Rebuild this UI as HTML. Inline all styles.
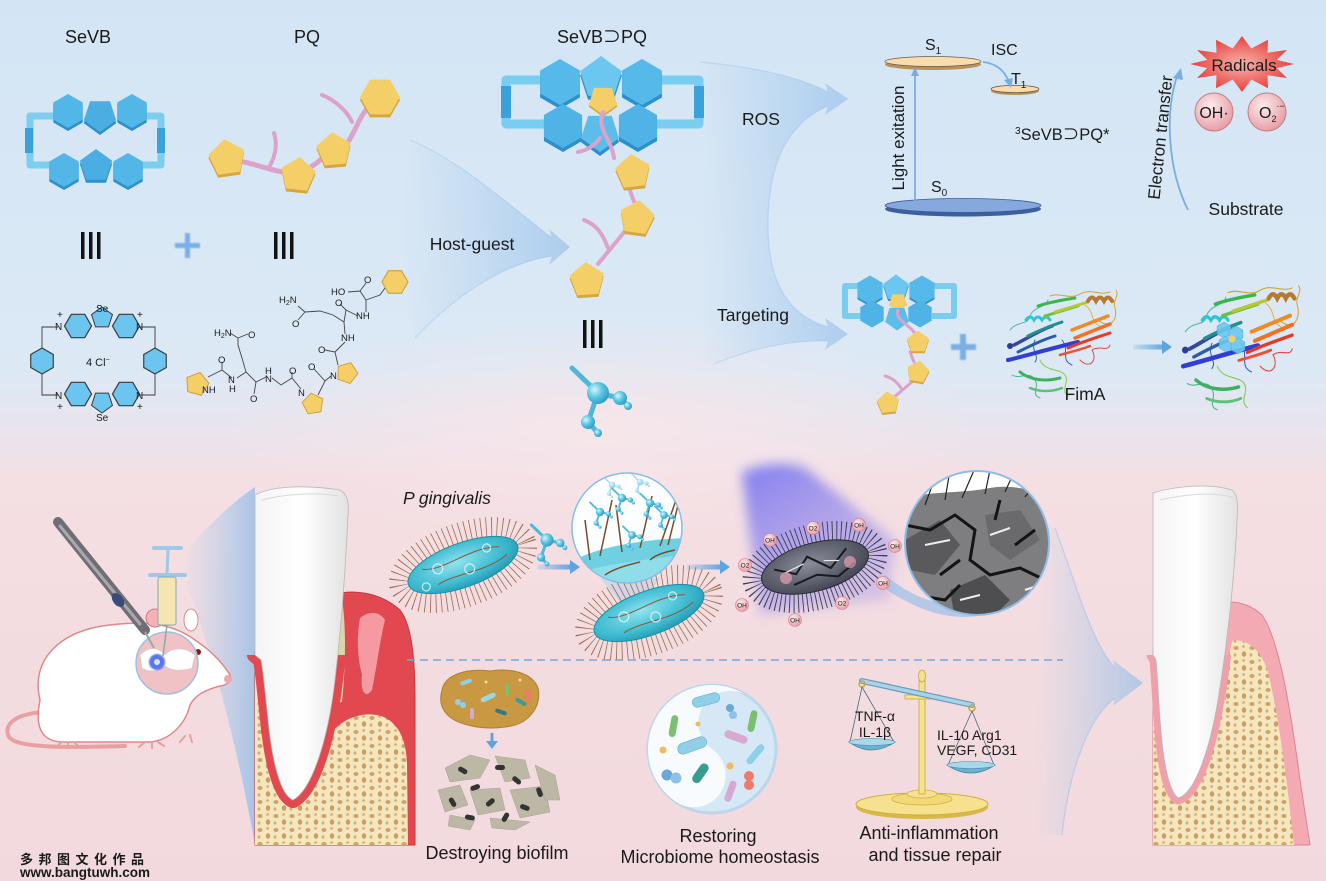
<!DOCTYPE html>
<html><head><meta charset="utf-8">
<style>
html,body{margin:0;padding:0;width:1326px;height:881px;overflow:hidden;background:#e4e4ec}
svg{display:block}
text{font-family:"Liberation Sans","Noto Sans CJK SC",sans-serif;fill:#1a1a1a}
</style></head><body>
<svg width="1326" height="881" viewBox="0 0 1326 881" xmlns="http://www.w3.org/2000/svg">
<defs>
 <linearGradient id="bg" x1="0" y1="0" x2="0" y2="1">
  <stop offset="0" stop-color="#d3e5f5"/>
  <stop offset="0.42" stop-color="#dce9f5"/>
  <stop offset="0.5" stop-color="#ebe3ec"/>
  <stop offset="0.54" stop-color="#f4dfe3"/>
  <stop offset="1" stop-color="#f2d9dd"/>
 </linearGradient>
 <radialGradient id="glow" cx="0.5" cy="0.5" r="0.5">
  <stop offset="0" stop-color="#f7e6ea" stop-opacity="0.95"/>
  <stop offset="1" stop-color="#f7e6ea" stop-opacity="0"/>
 </radialGradient>
 <linearGradient id="wHG" gradientUnits="userSpaceOnUse" x1="400" y1="0" x2="570" y2="0">
  <stop offset="0" stop-color="#9cc4ea" stop-opacity="0"/>
  <stop offset="1" stop-color="#8dbbe8" stop-opacity="0.6"/>
 </linearGradient>
 <linearGradient id="wRT" gradientUnits="userSpaceOnUse" x1="700" y1="0" x2="848" y2="0">
  <stop offset="0" stop-color="#9cc4ea" stop-opacity="0"/>
  <stop offset="1" stop-color="#8dbbe8" stop-opacity="0.6"/>
 </linearGradient>
 <linearGradient id="wRat" gradientUnits="userSpaceOnUse" x1="190" y1="0" x2="256" y2="0">
  <stop offset="0" stop-color="#a6cbec" stop-opacity="0.1"/>
  <stop offset="1" stop-color="#8dbbe8" stop-opacity="0.75"/>
 </linearGradient>
 <linearGradient id="wBR" gradientUnits="userSpaceOnUse" x1="1035" y1="0" x2="1143" y2="0">
  <stop offset="0" stop-color="#a6cbec" stop-opacity="0"/>
  <stop offset="1" stop-color="#8dbbe8" stop-opacity="0.65"/>
 </linearGradient>
 <linearGradient id="arrG" x1="0" y1="0" x2="1" y2="0">
  <stop offset="0" stop-color="#5fa4e0" stop-opacity="0.15"/>
  <stop offset="1" stop-color="#5fa4e0"/>
 </linearGradient>
 <radialGradient id="ballG" cx="0.35" cy="0.35" r="0.7">
  <stop offset="0" stop-color="#d6f6fd"/>
  <stop offset="0.5" stop-color="#5cc6e4"/>
  <stop offset="1" stop-color="#2b9cc4"/>
 </radialGradient>
 <radialGradient id="cyanG" cx="0.45" cy="0.4" r="0.7">
  <stop offset="0" stop-color="#8fe3ee"/>
  <stop offset="0.6" stop-color="#3dbbd0"/>
  <stop offset="1" stop-color="#1d8ea8"/>
 </radialGradient>
 <radialGradient id="darkG" cx="0.45" cy="0.4" r="0.7">
  <stop offset="0" stop-color="#8a8d9a"/>
  <stop offset="1" stop-color="#3a3c4a"/>
 </radialGradient>
 <radialGradient id="rosG" cx="0.4" cy="0.35" r="0.7">
  <stop offset="0" stop-color="#fdeced"/>
  <stop offset="1" stop-color="#e59aa2"/>
 </radialGradient>
 <radialGradient id="starG" cx="0.5" cy="0.5" r="0.5">
  <stop offset="0" stop-color="#f6b4aa"/>
  <stop offset="1" stop-color="#e8403e"/>
 </radialGradient>
 <linearGradient id="beamG" x1="0" y1="0" x2="0.6" y2="1">
  <stop offset="0" stop-color="#5b5ef2" stop-opacity="0.75"/>
  <stop offset="1" stop-color="#7a6cf0" stop-opacity="0.25"/>
 </linearGradient>
 <linearGradient id="toothG" x1="0" y1="0" x2="1" y2="0">
  <stop offset="0" stop-color="#f4f4f4"/>
  <stop offset="0.5" stop-color="#ffffff"/>
  <stop offset="1" stop-color="#e2e2e2"/>
 </linearGradient>
 <filter id="blur6" x="-30%" y="-30%" width="160%" height="160%"><feGaussianBlur stdDeviation="6"/></filter>
 <filter id="blur1"><feGaussianBlur stdDeviation="0.8"/></filter>
 <pattern id="bone" width="16" height="14" patternUnits="userSpaceOnUse">
  <rect width="16" height="14" fill="#f4e6bf"/>
  <ellipse cx="4" cy="4" rx="2.6" ry="2" fill="#d3a266"/>
  <ellipse cx="12" cy="10" rx="2.2" ry="2.8" fill="#cf9c60"/>
  <ellipse cx="11.5" cy="2.5" rx="1.5" ry="1.2" fill="#d8ae78"/>
  <ellipse cx="3" cy="11" rx="1.4" ry="1.8" fill="#d8ae78"/>
 </pattern>
 <clipPath id="lowClip"><rect x="0" y="655" width="1326" height="226"/></clipPath>
 <polygon id="pg" points="0,-10 9.51,-3.09 5.88,8.09 -5.88,8.09 -9.51,-3.09"/>
 <polygon id="hx" points="0,-10 8.66,-5 8.66,5 0,10 -8.66,5 -8.66,-5"/>
 <g id="mol">
  <path d="M0,0 L-26,-25 M0,0 L22,5 L30,13 M0,0 L-10,29 L0,40" stroke="#4fb8d8" stroke-width="5" stroke-linecap="round" fill="none"/>
  <circle r="11" fill="url(#ballG)"/>
  <circle cx="22" cy="5" r="7" fill="url(#ballG)"/>
  <circle cx="-10" cy="29" r="7" fill="url(#ballG)"/>
  <circle cx="30" cy="13" r="4" fill="url(#ballG)"/>
  <circle cx="0" cy="40" r="4" fill="url(#ballG)"/>
 </g>
 <g id="prot" fill="none" stroke-linecap="round">
  <path d="M1010,330 C1018,320 1028,326 1030,316 C1034,306 1046,308 1048,300" stroke="#56b8a0" stroke-width="1"/>
  <path d="M1050,296 C1060,292 1070,300 1080,294 C1090,288 1100,296 1110,292" stroke="#c8a838" stroke-width="1"/>
  <path d="M1098,320 C1110,330 1118,320 1115,308 C1112,300 1120,296 1116,290" stroke="#e0a030" stroke-width="1"/>
  <path d="M1080,360 C1090,370 1098,360 1092,350 C1100,345 1108,352 1110,345" stroke="#e04a4a" stroke-width="1"/>
  <path d="M1040,360 C1045,372 1060,368 1065,375 C1070,382 1060,390 1068,396" stroke="#8ac850" stroke-width="1"/>
  <path d="M1012,375 C1020,380 1030,370 1035,380 C1040,388 1030,394 1040,398" stroke="#4ab890" stroke-width="1"/>
  <path d="M1062,340 C1070,350 1060,360 1072,365" stroke="#4060c0" stroke-width="1"/>
  <path d="M1035,340 C1030,350 1040,356 1035,362" stroke="#3a6ab0" stroke-width="1"/>
  <path d="M1085,305 C1095,312 1090,322 1100,326" stroke="#e8b040" stroke-width="1"/>
  <path d="M1008,360 C1025,356 1045,350 1078,342" stroke="#2f3fd6" stroke-width="4"/>
  <path d="M1014,345 C1028,338 1040,330 1052,326" stroke="#35489a" stroke-width="3.5"/>
  <path d="M1018,352 C1030,346 1042,340 1055,336" stroke="#2a5ca8" stroke-width="3"/>
  <path d="M1028,336 C1040,330 1050,326 1062,322" stroke="#1f8f8f" stroke-width="3"/>
  <path d="M1026,320 q4,-6 8,0 q4,-6 8,0 q4,-6 8,0" stroke="#2cc6d6" stroke-width="3"/>
  <path d="M1038,306 C1050,302 1062,300 1075,298" stroke="#3db54a" stroke-width="3"/>
  <path d="M1045,316 L1078,306" stroke="#70c040" stroke-width="3"/>
  <path d="M1020,372 C1030,380 1045,382 1060,378" stroke="#40b060" stroke-width="3"/>
  <path d="M1030,388 C1040,392 1052,392 1062,388" stroke="#5cc27a" stroke-width="2.5"/>
  <path d="M1055,312 L1088,302" stroke="#b8c832" stroke-width="3"/>
  <path d="M1072,330 L1108,316" stroke="#f08a24" stroke-width="3.5"/>
  <path d="M1075,338 L1110,324" stroke="#f36f21" stroke-width="3.5"/>
  <path d="M1068,348 C1082,342 1095,338 1110,333" stroke="#e23b2b" stroke-width="3"/>
  <path d="M1060,355 C1070,352 1080,350 1090,346" stroke="#ee5030" stroke-width="2.5"/>
  <path d="M1088,301 q4,-7 8,0 q4,-7 8,0 q4,-7 8,0" stroke="#b8782e" stroke-width="4"/>
  <circle cx="1010" cy="346" r="3" fill="#2a3f8f" stroke="none"/>
 </g>
</defs>

<!-- background -->
<rect width="1326" height="881" fill="url(#bg)"/>
<ellipse cx="600" cy="430" rx="380" ry="110" fill="url(#glow)"/>

<!-- big wedges top -->
<path d="M410,140 C460,160 515,210 552,238 L549,229 L570,247 L549,265 L552,256 C510,262 460,290 415,338 C400,280 400,200 410,140 Z" fill="url(#wHG)"/>
<path d="M410,140 C460,160 515,210 552,238 M552,256 C510,262 460,290 415,338" fill="none" stroke="#8dbbe8" stroke-opacity="0.35" stroke-width="1.2"/>
<path d="M700,62 C765,68 805,80 828,92 L825,83 L848,99 L825,115 L828,106 C786,124 768,165 768,225 C768,285 790,316 828,327 L825,318 L848,334 L825,350 L828,341 C790,340 752,348 714,364 L700,364 Z" fill="url(#wRT)"/>
<path d="M700,62 C765,68 805,80 828,92 M828,106 C786,124 768,165 768,225 C768,285 790,316 828,327 M828,341 C790,340 752,348 714,364" fill="none" stroke="#8dbbe8" stroke-opacity="0.35" stroke-width="1.2"/>

<!-- labels top -->
<text x="88" y="43" font-size="18" text-anchor="middle">SeVB</text>
<text x="307" y="43" font-size="18" text-anchor="middle">PQ</text>
<text x="602" y="43" font-size="18" text-anchor="middle">SeVB⊃PQ</text>
<text x="472" y="250" font-size="17.5" text-anchor="middle">Host-guest</text>
<text x="761" y="125" font-size="17.5" text-anchor="middle">ROS</text>
<text x="753" y="321" font-size="17.5" text-anchor="middle">Targeting</text>

<!-- SeVB macrocycle -->
<path d="M56,116 H30 V165 H52 M144,116 H161 V165 H140" fill="none" stroke="#7ccdf0" stroke-width="7" stroke-linejoin="round"/>
<rect x="25" y="128" width="8" height="25" fill="#3aa2d8"/>
<rect x="157" y="128" width="8" height="25" fill="#3aa2d8"/>
<use href="#hx" transform="translate(68,114) scale(1.7)" fill="#2d8fcb"/>
<use href="#hx" transform="translate(132,114) scale(1.7)" fill="#2d8fcb"/>
<use href="#pg" transform="translate(100,118) rotate(180) scale(1.7)" fill="#2d8fcb"/>
<use href="#hx" transform="translate(68,111) scale(1.7)" fill="#52b6e7"/>
<use href="#hx" transform="translate(132,111) scale(1.7)" fill="#52b6e7"/>
<use href="#pg" transform="translate(100,115) rotate(180) scale(1.7)" fill="#4aaee2"/>
<use href="#hx" transform="translate(64,173) scale(1.7)" fill="#2d8fcb"/>
<use href="#hx" transform="translate(128,173) scale(1.7)" fill="#2d8fcb"/>
<use href="#pg" transform="translate(96,169) scale(1.7)" fill="#2d8fcb"/>
<use href="#hx" transform="translate(64,170) scale(1.7)" fill="#52b6e7"/>
<use href="#hx" transform="translate(128,170) scale(1.7)" fill="#52b6e7"/>
<use href="#pg" transform="translate(96,166) scale(1.7)" fill="#4aaee2"/>

<!-- PQ chain -->
<path d="M244,162 C258,165 270,170 283,172 M312,166 C318,163 320,160 322,158 M348,142 C356,130 358,120 366,110" stroke="#dca3c9" stroke-width="5" fill="none" stroke-linecap="round"/>
<path d="M268,169 C275,158 278,145 274,133 M352,122 C348,112 335,100 322,95" stroke="#dca3c9" stroke-width="4" fill="none" stroke-linecap="round"/>
<use href="#pg" transform="translate(227,161) rotate(-8) scale(1.9)" fill="#d6a740"/>
<use href="#pg" transform="translate(227,158) rotate(-8) scale(1.9)" fill="#f4cf68"/>
<use href="#pg" transform="translate(298,178) rotate(6) scale(1.8)" fill="#d6a740"/>
<use href="#pg" transform="translate(298,175) rotate(6) scale(1.8)" fill="#f4cf68"/>
<use href="#pg" transform="translate(334,153) rotate(-5) scale(1.8)" fill="#d6a740"/>
<use href="#pg" transform="translate(334,150) rotate(-5) scale(1.8)" fill="#f4cf68"/>
<use href="#hx" transform="translate(380,100) rotate(30) scale(2)" fill="#d6a740"/>
<use href="#hx" transform="translate(380,97) rotate(30) scale(2)" fill="#f4cf68"/>

<!-- ||| and + -->
<g fill="#111">
 <rect x="81" y="232" width="3.5" height="27"/><rect x="89" y="232" width="3.5" height="27"/><rect x="97" y="232" width="3.5" height="27"/>
 <rect x="274" y="232" width="3.5" height="27"/><rect x="282" y="232" width="3.5" height="27"/><rect x="290" y="232" width="3.5" height="27"/>
 <rect x="583" y="320" width="3.5" height="28"/><rect x="591" y="320" width="3.5" height="28"/><rect x="599" y="320" width="3.5" height="28"/>
</g>
<g fill="#7ab0e6" filter="url(#blur1)">
 <rect x="175" y="243" width="25" height="5"/><rect x="185" y="233" width="5" height="25"/>
 <rect x="951" y="344" width="25" height="6"/><rect x="960" y="334" width="6" height="26"/>
</g>

<!-- SeVB chemical structure -->
<g stroke="#3a3a3a" stroke-width="0.9" fill="#6cc5ef">
 <use href="#hx" transform="translate(78,326) rotate(30) scale(1.35)"/>
 <use href="#hx" transform="translate(126,326) rotate(30) scale(1.35)"/>
 <use href="#pg" transform="translate(102,318) scale(1.1)"/>
 <use href="#hx" transform="translate(78,394) rotate(30) scale(1.35)"/>
 <use href="#hx" transform="translate(126,394) rotate(30) scale(1.35)"/>
 <use href="#pg" transform="translate(102,402) rotate(180) scale(1.1)"/>
 <use href="#hx" transform="translate(42,361) scale(1.3)"/>
 <use href="#hx" transform="translate(155,361) scale(1.3)"/>
 <path d="M58,327 H42 V348 M42,374 V395 H58 M139,327 H155 V348 M155,374 V395 H139" fill="none"/>
</g>
<g font-size="10" fill="#333">
 <text x="96" y="312">Se</text><text x="96" y="421">Se</text>
 <text x="55" y="330">N</text><text x="136" y="330">N</text>
 <text x="55" y="399">N</text><text x="136" y="399">N</text>
 <text x="57" y="318">+</text><text x="137" y="318">+</text>
 <text x="57" y="410">+</text><text x="137" y="410">+</text>
 <text x="86" y="366" font-size="11">4 Cl<tspan dy="-4" font-size="7">−</tspan></text>
</g>

<!-- PQ chemical structure -->
<g stroke="#d2a23e" stroke-width="0.9" fill="#f4cf68">
 <use href="#pg" transform="translate(197,384) rotate(15) scale(1.2)"/>
 <use href="#pg" transform="translate(313,404) rotate(-10) scale(1.1)"/>
 <use href="#pg" transform="translate(347,373) rotate(20) scale(1.1)"/>
 <use href="#hx" transform="translate(395,282) rotate(30) scale(1.3)"/>
</g>
<path fill="none" stroke="#444" stroke-width="0.9" d="M208,377 L222,370 L222,362 M222,370 L232,378 M237,378 L246,372 L242,358 L238,345 L238,338 L230,333 M238,338 L248,334 M246,372 L256,382 L254,394 M256,382 L266,377 M272,378 L281,385 L292,378 L292,372 M292,378 L301,389 M318,395 L325,381 L314,369 M325,381 L331,376 M338,365 L335,352 L325,350 M335,352 L345,342 M345,334 L344,322 L333,315 L320,311 L305,312 L298,306 M305,312 L298,320 M344,322 L346,310 L340,304 M346,310 L358,316 M366,312 L366,300 L360,291 L348,292 M360,291 L366,283 M366,300 L380,295 L385,288"/>
<g font-size="9.5" fill="#333">
 <text x="279" y="303">H<tspan font-size="7" dy="2">2</tspan><tspan dy="-2">N</tspan></text>
 <text x="292" y="327">O</text><text x="331" y="295">HO</text><text x="364" y="283">O</text>
 <text x="335" y="306">O</text><text x="356" y="319">NH</text><text x="341" y="341">NH</text>
 <text x="318" y="353">O</text><text x="308" y="370">O</text><text x="330" y="379">N</text>
 <text x="214" y="336">H<tspan font-size="7" dy="2">2</tspan><tspan dy="-2">N</tspan></text>
 <text x="248" y="338">O</text><text x="218" y="363">O</text>
 <text x="228" y="383">N</text><text x="229" y="392">H</text>
 <text x="265" y="374">H</text><text x="265" y="382">N</text>
 <text x="250" y="402">O</text><text x="289" y="374">O</text><text x="298" y="396">N</text>
 <text x="202" y="393">NH</text>
</g>

<!-- SeVB⊃PQ complex -->
<path d="M545,80 H506 V124 H548 M655,80 H699 V124 H655" fill="none" stroke="#78cdf0" stroke-width="9" stroke-linejoin="round"/>
<rect x="501" y="86" width="10" height="32" fill="#3aa2d8"/>
<rect x="694" y="86" width="10" height="32" fill="#3aa2d8"/>
<use href="#hx" transform="translate(560,86) scale(2.3)" fill="#2d8fcb"/>
<use href="#pg" transform="translate(601,82) scale(2.2)" fill="#2d8fcb"/>
<use href="#hx" transform="translate(642,86) scale(2.3)" fill="#2d8fcb"/>
<use href="#hx" transform="translate(560,82) scale(2.3)" fill="#55b9e9"/>
<use href="#pg" transform="translate(601,78) scale(2.2)" fill="#6cc7f0"/>
<use href="#hx" transform="translate(642,82) scale(2.3)" fill="#55b9e9"/>
<use href="#pg" transform="translate(603,102) rotate(180) scale(1.5)" fill="#d6a740"/>
<use href="#pg" transform="translate(603,100) rotate(180) scale(1.5)" fill="#f4cf68"/>
<use href="#hx" transform="translate(563,130) scale(2.2)" fill="#2d8fcb"/>
<use href="#pg" transform="translate(600,136) rotate(180) scale(2)" fill="#2d8fcb"/>
<use href="#hx" transform="translate(638,130) scale(2.2)" fill="#2d8fcb"/>
<use href="#hx" transform="translate(563,126) scale(2.2)" fill="#4fb3e6"/>
<use href="#pg" transform="translate(600,132) rotate(180) scale(2)" fill="#5dbdea"/>
<use href="#hx" transform="translate(638,126) scale(2.2)" fill="#4fb3e6"/>
<path d="M603,112 C596,128 612,140 614,158 M578,152 C588,150 595,145 600,138 M630,190 C632,197 634,202 636,205 M626,230 L598,264 M608,248 C602,232 596,225 584,220" stroke="#dca3c9" stroke-width="4" fill="none" stroke-linecap="round"/>
<use href="#pg" transform="translate(633,175) rotate(-6) scale(1.8)" fill="#d6a740"/>
<use href="#pg" transform="translate(633,172) rotate(-6) scale(1.8)" fill="#f4cf68"/>
<use href="#pg" transform="translate(637,221) rotate(8) scale(1.8)" fill="#d6a740"/>
<use href="#pg" transform="translate(637,218) rotate(8) scale(1.8)" fill="#f4cf68"/>
<use href="#pg" transform="translate(587,283) rotate(-4) scale(1.8)" fill="#d6a740"/>
<use href="#pg" transform="translate(587,280) rotate(-4) scale(1.8)" fill="#f4cf68"/>
<use href="#mol" transform="translate(598,393)"/>

<!-- Energy diagram -->
<ellipse cx="933" cy="64.5" rx="48" ry="5.5" fill="#b8925a"/>
<ellipse cx="933" cy="61.5" rx="48" ry="5" fill="#f8dcae" stroke="#6b5a40" stroke-width="0.8"/>
<ellipse cx="1015" cy="91" rx="24" ry="4" fill="#b8925a"/>
<ellipse cx="1015" cy="89" rx="24" ry="3.6" fill="#f8dcae" stroke="#6b5a40" stroke-width="0.8"/>
<ellipse cx="963" cy="209" rx="78" ry="7.5" fill="#3d5f9e"/>
<ellipse cx="963" cy="205.5" rx="78" ry="7" fill="#86a8dc" stroke="#3b5b97" stroke-width="0.8"/>
<line x1="915" y1="204" x2="915" y2="74" stroke="#7aaee0" stroke-width="1.8"/>
<polygon points="911,76 915,67 919,76" fill="#7aaee0"/>
<path d="M983,62 Q1002,64 1009,82" fill="none" stroke="#7aaee0" stroke-width="1.8"/>
<polygon points="1004,80 1011,88 1013,78" fill="#7aaee0"/>
<text x="925" y="50" font-size="16">S<tspan font-size="10" dy="4">1</tspan></text>
<text x="991" y="55" font-size="16">ISC</text>
<text x="1011" y="84" font-size="16">T<tspan font-size="10" dy="4">1</tspan></text>
<text x="931" y="192" font-size="16">S<tspan font-size="10" dy="4">0</tspan></text>
<text transform="translate(904,138) rotate(-90)" font-size="17" text-anchor="middle">Light exitation</text>
<text x="1015" y="140" font-size="16.5"><tspan font-size="10" dy="-6">3</tspan><tspan dy="6">SeVB⊃PQ*</tspan></text>

<!-- Electron transfer -->
<path d="M1188,210 C1168,170 1164,110 1178,74" fill="none" stroke="#7aaee0" stroke-width="1.8"/>
<polygon points="1173,78 1181,68 1183,80" fill="#7aaee0"/>
<text transform="translate(1166,138) rotate(-84)" font-size="17" text-anchor="middle">Electron transfer</text>
<polygon fill="url(#starG)" points="1294,64 1276.8,68.1 1287,78 1267.5,75.3 1268,88.2 1251.3,79.5 1242,92 1232.7,79.5 1216,88.2 1216.5,75.3 1197,78 1207.2,68.1 1190,64 1207.2,59.9 1197,50 1216.5,52.7 1216,39.8 1232.7,48.5 1242,36 1251.3,48.5 1268,39.8 1267.5,52.7 1287,50 1276.8,59.9"/>
<text x="1244" y="71" font-size="17" text-anchor="middle">Radicals</text>
<circle cx="1214" cy="112" r="19" fill="url(#rosG)" stroke="#c77a80" stroke-width="1"/>
<circle cx="1267" cy="112" r="19" fill="url(#rosG)" stroke="#c77a80" stroke-width="1"/>
<text x="1214" y="118" font-size="16" text-anchor="middle">OH·</text>
<text x="1259" y="118" font-size="16">O<tspan font-size="9" dy="4">2</tspan><tspan font-size="9" dy="-13">·−</tspan></text>
<text x="1246" y="215" font-size="17.5" text-anchor="middle">Substrate</text>

<!-- Targeting complex small -->
<path d="M862,286 H845 V316 H864 M934,286 H954 V316 H932" fill="none" stroke="#78cdf0" stroke-width="6" stroke-linejoin="round"/>
<use href="#hx" transform="translate(870,292) scale(1.45)" fill="#2d8fcb"/>
<use href="#pg" transform="translate(896,290) scale(1.35)" fill="#2d8fcb"/>
<use href="#hx" transform="translate(922,292) scale(1.45)" fill="#2d8fcb"/>
<use href="#hx" transform="translate(870,290) scale(1.45)" fill="#55b9e9"/>
<use href="#pg" transform="translate(896,288) scale(1.35)" fill="#6cc7f0"/>
<use href="#hx" transform="translate(922,290) scale(1.45)" fill="#55b9e9"/>
<use href="#pg" transform="translate(898,302) rotate(180) scale(0.95)" fill="#f4cf68"/>
<use href="#hx" transform="translate(872,314) scale(1.35)" fill="#4fb3e6"/>
<use href="#pg" transform="translate(897,318) rotate(180) scale(1.25)" fill="#5dbdea"/>
<use href="#hx" transform="translate(920,314) scale(1.35)" fill="#4fb3e6"/>
<path d="M898,310 C894,320 912,326 915,334 M910,352 L914,362 M912,382 L893,398 M902,390 C898,382 892,378 885,376" stroke="#dca3c9" stroke-width="3" fill="none" stroke-linecap="round"/>
<use href="#pg" transform="translate(918,344) scale(1.15)" fill="#d6a740"/>
<use href="#pg" transform="translate(918,342) scale(1.15)" fill="#f4cf68"/>
<use href="#pg" transform="translate(918,374) rotate(10) scale(1.15)" fill="#d6a740"/>
<use href="#pg" transform="translate(918,372) rotate(10) scale(1.15)" fill="#f4cf68"/>
<use href="#pg" transform="translate(888,405) rotate(-6) scale(1.15)" fill="#d6a740"/>
<use href="#pg" transform="translate(888,403) rotate(-6) scale(1.15)" fill="#f4cf68"/>

<!-- FimA -->
<use href="#prot"/>
<text x="1085" y="400" font-size="17.5" text-anchor="middle">FimA</text>
<rect x="1133" y="344.5" width="32" height="5" fill="url(#arrG)"/>
<polygon points="1162,340 1172,347 1162,354" fill="#5fa4e0"/>
<use href="#prot" transform="translate(1182 288) scale(1.07 1.15) translate(-1007 -292)"/>
<g fill="#6cc7f0" stroke="#3a9fd6" stroke-width="0.6" opacity="0.9">
 <use href="#hx" transform="translate(1224,330) scale(0.8)"/>
 <use href="#hx" transform="translate(1236,334) scale(0.8)"/>
 <use href="#hx" transform="translate(1226,344) scale(0.8)"/>
 <use href="#hx" transform="translate(1238,346) scale(0.8)"/>
</g>
<circle cx="1232" cy="339" r="3.5" fill="#f4cf68"/>

<!-- ===== bottom ===== -->
<path d="M188,548 C212,522 235,500 255,487 L255,845 C240,760 215,660 188,588 Z" fill="url(#wRat)"/>
<path d="M1055,528 C1075,580 1090,640 1115,668 L1113,660 L1143,683 L1113,706 L1115,698 C1085,720 1068,780 1062,835 L1035,835 L1035,528 Z" fill="url(#wBR)"/>
<path d="M1055,528 C1075,580 1090,640 1115,668 M1115,698 C1085,720 1068,780 1062,835" fill="none" stroke="#8dbbe8" stroke-opacity="0.45" stroke-width="1.2"/>

<!-- Rat -->
<path d="M50,712 C20,712 4,722 8,735 C12,748 60,748 125,746" fill="none" stroke="#e8a0a0" stroke-width="4" stroke-linecap="round"/>
<path d="M40,700 C30,660 60,630 110,625 C150,620 175,625 195,640 C210,650 222,662 230,675 C232,680 228,685 220,686 C205,690 195,695 190,705 C185,725 170,740 150,742 L60,742 C40,740 35,725 40,700 Z" fill="#ffffff" stroke="#e08888" stroke-width="1.5"/>
<path d="M62,742 l-6,5 M68,742 l0,6 M74,742 l5,5 M145,742 l-6,5 M152,742 l0,6 M158,742 l6,4 M185,736 l-5,6 M190,735 l2,7" stroke="#e8a0a0" stroke-width="2" stroke-linecap="round"/>
<circle cx="155" cy="618" r="9" fill="#f2b2b6" stroke="#d07b80"/>
<ellipse cx="191" cy="620" rx="7" ry="11" fill="#fff" stroke="#e08888"/>
<circle cx="198" cy="652" r="3" fill="#8b1a1a"/>
<circle cx="228" cy="679" r="4" fill="#f2a6ac"/>
<circle cx="167" cy="663" r="31" fill="#f0c2c6" stroke="#9cc2e0" stroke-width="1.5"/>
<path d="M140,655 C150,645 160,648 165,655 C170,648 185,646 195,655 L192,668 C180,672 170,670 165,666 C158,672 148,672 142,668 Z" fill="#fff" stroke="#ccc" stroke-width="0.6"/>
<circle cx="157" cy="662" r="8" fill="#3c5ee8" opacity="0.85" filter="url(#blur1)"/>
<circle cx="157" cy="662" r="3" fill="#d8e6ff"/>
<line x1="58" y1="522" x2="145" y2="630" stroke="#6e6e74" stroke-width="10" stroke-linecap="round"/>
<line x1="60" y1="526" x2="140" y2="624" stroke="#a8a8ae" stroke-width="3" stroke-linecap="round"/>
<ellipse cx="118" cy="600" rx="5" ry="8" transform="rotate(-38 118 600)" fill="#3a4a7a"/>
<line x1="145" y1="632" x2="154" y2="648" stroke="#9aa" stroke-width="2"/>
<line x1="168" y1="549" x2="167" y2="575" stroke="#9ec9e8" stroke-width="3"/>
<line x1="154" y1="548" x2="181" y2="548" stroke="#9ec9e8" stroke-width="4" stroke-linecap="round"/>
<line x1="150" y1="575" x2="185" y2="575" stroke="#9ec9e8" stroke-width="4" stroke-linecap="round"/>
<rect x="158" y="577" width="18" height="48" rx="2" fill="#f5e5b0" stroke="#8aa6b8" stroke-width="1"/>
<line x1="167" y1="625" x2="163" y2="656" stroke="#8aa" stroke-width="1.5"/>

<!-- Diseased tooth panel -->
<path d="M332,596 C350,588 380,592 400,610 C412,625 415,660 415,700 L415,845 L255,845 L255,652 C262,650 268,652 270,660 Z" fill="#e2484f" stroke="#c9363e" stroke-width="1"/>
<path d="M255,845 L255,660 L266,660 L266,728 L336,728 C350,714 372,711 386,718 C400,726 406,742 407,762 L408,845 Z" fill="url(#bone)"/>
<path d="M360,618 C370,610 380,612 385,620 C380,640 378,660 372,690 C365,700 360,690 362,675 C358,660 356,640 360,618 Z" fill="#f49aa0"/>
<path d="M332,598 C337,630 337,670 333,704 L342,702 C346,662 346,626 342,598 Z" fill="#d9d6aa"/>
<g fill="#5fb7c8"><circle cx="337" cy="612" r="1.2"/><circle cx="339" cy="630" r="1.2"/><circle cx="336" cy="648" r="1.2"/><circle cx="340" cy="668" r="1.2"/><circle cx="337" cy="688" r="1.2"/></g>
<g fill="#e27a5a"><circle cx="340" cy="620" r="1.1"/><circle cx="336" cy="638" r="1.1"/><circle cx="340" cy="656" r="1.1"/><circle cx="337" cy="678" r="1.1"/></g>
<g clip-path="url(#lowClip)">
 <path d="M255,495 C270,487 300,484 340,490 C348,494 349,505 348,515 C346,560 342,620 335,680 C328,740 312,790 293,800 C280,795 272,760 268,720 C265,690 263,670 261,660 L255,655 Z" fill="#e2484f" stroke="#e2484f" stroke-width="16" stroke-linejoin="round"/>
</g>
<path d="M255,495 C270,487 300,484 340,490 C348,494 349,505 348,515 C346,560 342,620 335,680 C328,740 312,790 293,800 C280,795 272,760 268,720 C265,690 263,670 261,660 L255,655 Z" fill="url(#toothG)" stroke="#b8b8b8" stroke-width="0.8"/>
<path d="M262,500 C285,494 315,492 338,496" fill="none" stroke="#d8d8d8" stroke-width="1"/>

<!-- Healthy tooth panel -->
<path d="M1218,603 C1235,600 1250,604 1262,615 C1280,640 1292,720 1300,780 L1310,845 L1153,845 L1153,652 C1157,652 1160,655 1161,660 Z" fill="#f4aab3" stroke="#e0828f" stroke-width="1"/>
<path d="M1153,845 L1153,660 L1163,660 L1163,700 L1226,700 C1227,668 1229,650 1233,640 C1250,640 1262,652 1268,672 C1280,722 1288,790 1294,845 Z" fill="url(#bone)"/>
<g clip-path="url(#lowClip)">
 <path d="M1153,493 C1175,486 1210,483 1232,490 C1238,495 1238,505 1237,520 C1235,570 1228,640 1218,700 C1208,760 1192,795 1178,798 C1168,790 1163,760 1160,720 C1158,690 1157,670 1156,660 L1153,655 Z" fill="#f0a0aa" stroke="#f0a0aa" stroke-width="13" stroke-linejoin="round"/>
</g>
<path d="M1153,493 C1175,486 1210,483 1232,490 C1238,495 1238,505 1237,520 C1235,570 1228,640 1218,700 C1208,760 1192,795 1178,798 C1168,790 1163,760 1160,720 C1158,690 1157,670 1156,660 L1153,655 Z" fill="url(#toothG)" stroke="#b8b8b8" stroke-width="0.8"/>
<path d="M1160,500 C1185,494 1212,492 1232,497" fill="none" stroke="#d8d8d8" stroke-width="1"/>

<!-- P gingivalis -->
<text x="403" y="504" font-size="17.5" font-style="italic">P gingivalis</text>
<g transform="translate(463,565) rotate(-20)">
 <ellipse rx="66" ry="31" fill="none" stroke="#9b6b4d" stroke-width="22" stroke-dasharray="0.8 4.5"/>
 <ellipse rx="58" ry="22" fill="url(#cyanG)" stroke="#1b8fa5" stroke-width="1"/>
 <path d="M-40,-10 C-20,0 10,-15 40,-5 M-30,10 C-10,5 20,15 45,5" stroke="#8a5a3c" stroke-width="1" fill="none"/>
 <g fill="none" stroke="#e6fbff" stroke-width="1.2" opacity="0.8"><circle cx="-25" cy="-5" r="5"/><circle cx="5" cy="6" r="5"/><circle cx="28" cy="-8" r="4"/><circle cx="-42" cy="8" r="4"/></g>
</g>
<use href="#mol" transform="translate(547,540) scale(0.6)"/>
<rect x="537" y="564.5" width="35" height="5" fill="url(#arrG)"/>
<polygon points="570,560 580,567 570,574" fill="#5fa4e0"/>

<!-- magnifier 1 -->
<path d="M600,578 L620,602 L645,600 L660,578 Z" fill="#a9cdee" opacity="0.45"/>
<g transform="translate(649,613) rotate(-20)">
 <ellipse rx="66" ry="31" fill="none" stroke="#9b6b4d" stroke-width="22" stroke-dasharray="0.8 4.5"/>
 <ellipse rx="58" ry="22" fill="url(#cyanG)" stroke="#1b8fa5" stroke-width="1"/>
 <path d="M-40,-10 C-20,0 10,-15 40,-5 M-30,10 C-10,5 20,15 45,5" stroke="#8a5a3c" stroke-width="1" fill="none"/>
 <g fill="none" stroke="#e6fbff" stroke-width="1.2" opacity="0.8"><circle cx="-25" cy="-5" r="5"/><circle cx="5" cy="6" r="5"/><circle cx="28" cy="-8" r="4"/></g>
</g>
<clipPath id="c1"><circle cx="627" cy="528" r="55"/></clipPath>
<circle cx="627" cy="528" r="55" fill="#fbfdfe"/>
<g clip-path="url(#c1)">
 <path d="M570,562 C600,546 640,540 685,538 L685,590 L570,590 Z" fill="#6fd0e2"/>
 <path d="M570,575 C600,565 640,560 685,555 L685,590 L570,590 Z" fill="#a6e6f0" opacity="0.6"/>
 <path d="M600,556 L612,500 M622,552 L616,505 M640,548 L652,496 M660,546 L676,500 M668,545 L678,505 M590,560 L585,520 M650,560 C655,555 665,552 675,550 M605,575 C615,568 628,565 640,562" stroke="#7a4a2c" stroke-width="1.5" fill="none"/>
 <use href="#mol" transform="translate(600,512) scale(0.38)"/>
 <use href="#mol" transform="translate(622,498) scale(0.38)"/>
 <use href="#mol" transform="translate(650,503) scale(0.38)"/>
 <use href="#mol" transform="translate(632,535) scale(0.35)"/>
 <use href="#mol" transform="translate(664,515) scale(0.35)"/>
 <use href="#mol" transform="translate(612,485) scale(0.3)" opacity="0.5"/>
 <use href="#mol" transform="translate(640,482) scale(0.3)" opacity="0.5"/>
</g>
<circle cx="627" cy="528" r="55" fill="none" stroke="#86bde6" stroke-width="1.5"/>
<rect x="687" y="564.5" width="35" height="5" fill="url(#arrG)"/>
<polygon points="720,560 730,567 720,574" fill="#5fa4e0"/>

<!-- light beam + dark bacterium -->
<path d="M742,472 C765,462 790,462 805,468 L895,540 L890,600 L760,614 Z" fill="url(#beamG)" filter="url(#blur6)"/>
<path d="M880,585 C920,614 960,624 995,612 L985,600 C950,612 915,600 885,575 Z" fill="#8dbbe8" opacity="0.6"/>
<g transform="translate(815,567) rotate(-15)">
 <ellipse rx="63" ry="32" fill="none" stroke="#3c3e4e" stroke-width="22" stroke-dasharray="0.9 3.5"/>
 <ellipse rx="55" ry="24" fill="url(#darkG)" stroke="#2a2a35" stroke-width="1"/>
 <path d="M-40,-8 L-20,2 L-5,-12 L15,5 L35,-10 M-25,12 L0,8 L20,15 L40,6" stroke="#1a1a22" stroke-width="2" fill="none"/>
 <path d="M-30,-2 L-10,-6 M10,-4 L25,0" stroke="#e8e8f0" stroke-width="1.2" fill="none"/>
</g>
<g font-size="6.5" text-anchor="middle" fill="#7a2a3a">
 <circle cx="745" cy="565" r="6.5" fill="url(#rosG)" stroke="#d37a86" stroke-width="0.6"/><text x="745" y="567.5">O2</text>
 <circle cx="770" cy="540" r="6.5" fill="url(#rosG)" stroke="#d37a86" stroke-width="0.6"/><text x="770" y="542.5">OH</text>
 <circle cx="813" cy="528" r="6.5" fill="url(#rosG)" stroke="#d37a86" stroke-width="0.6"/><text x="813" y="530.5">O2</text>
 <circle cx="859" cy="525" r="6.5" fill="url(#rosG)" stroke="#d37a86" stroke-width="0.6"/><text x="859" y="527.5">OH</text>
 <circle cx="895" cy="546" r="6.5" fill="url(#rosG)" stroke="#d37a86" stroke-width="0.6"/><text x="895" y="548.5">OH</text>
 <circle cx="883" cy="583" r="6.5" fill="url(#rosG)" stroke="#d37a86" stroke-width="0.6"/><text x="883" y="585.5">OH</text>
 <circle cx="842" cy="603" r="6.5" fill="url(#rosG)" stroke="#d37a86" stroke-width="0.6"/><text x="842" y="605.5">O2</text>
 <circle cx="795" cy="620" r="6.5" fill="url(#rosG)" stroke="#d37a86" stroke-width="0.6"/><text x="795" y="622.5">OH</text>
 <circle cx="742" cy="605" r="6.5" fill="url(#rosG)" stroke="#d37a86" stroke-width="0.6"/><text x="742" y="607.5">OH</text>
 <circle cx="786" cy="578" r="6" fill="#e6a0b0" opacity="0.7"/>
 <circle cx="850" cy="562" r="6" fill="#e6a0b0" opacity="0.7"/>
</g>

<!-- gray magnifier -->
<clipPath id="c2"><circle cx="977" cy="543" r="72"/></clipPath>
<circle cx="977" cy="543" r="72" fill="#ffffff"/>
<g clip-path="url(#c2)">
 <path d="M900,500 C930,490 960,494 990,488 C1010,484 1030,490 1055,495 L1055,620 L900,620 Z" fill="#7e7e80"/>
 <path d="M905,540 L940,520 L960,545 L935,575 L910,570 Z" fill="#5a5a5c"/>
 <path d="M985,515 L1020,510 L1040,540 L1010,560 L990,545 Z" fill="#6a6a6c"/>
 <path d="M950,590 L985,575 L1010,600 L990,620 L955,620 Z" fill="#4e4e50"/>
 <path d="M905,525 L930,530 L955,515 L975,530 L970,560 L990,575 L1020,568 L1045,580 M940,575 L960,560 M915,595 L945,600 L960,585 M995,520 L1000,500 M1015,545 L1035,530" stroke="#141414" stroke-width="3" fill="none"/>
 <path d="M925,545 L950,540 M990,535 L1010,528 M960,600 L980,595 M1025,590 L1040,585" stroke="#eeeeee" stroke-width="2" fill="none"/>
 <path d="M925,505 L935,478 M945,500 L950,470 M962,498 L975,468 M985,494 L990,470 M1005,492 L1015,470 M1025,497 L1040,478 M935,610 L930,625 M1000,612 L1005,625" stroke="#222" stroke-width="1.2" fill="none"/>
</g>
<circle cx="977" cy="543" r="72" fill="none" stroke="#8fbde6" stroke-width="2"/>

<!-- dashed line -->
<line x1="407" y1="660" x2="1063" y2="660" stroke="#74a8de" stroke-width="1.6" stroke-dasharray="8 5"/>

<!-- biofilm -->
<path d="M442,690 C445,675 465,668 490,671 C510,668 532,672 538,688 C542,705 530,725 505,727 C485,730 455,726 445,712 C440,705 440,697 442,690 Z" fill="#c99843" stroke="#ad7f30" stroke-width="1"/>
<g>
 <rect x="460" y="680" width="12" height="4" rx="2" fill="#8fd0e8" transform="rotate(-20 466 682)"/>
 <rect x="480" y="695" width="16" height="5" rx="2.5" fill="#9ad6ea" transform="rotate(-25 488 697)"/>
 <rect x="505" y="684" width="4" height="12" rx="2" fill="#7ac070"/>
 <rect x="515" y="700" width="12" height="4" rx="2" fill="#3a9c9c" transform="rotate(30 521 702)"/>
 <rect x="470" y="708" width="4" height="11" rx="2" fill="#d8a8d0"/>
 <rect x="495" y="710" width="12" height="4" rx="2" fill="#2e7a8a" transform="rotate(20 501 712)"/>
 <circle cx="458" cy="702" r="3" fill="#8fd0e8"/><circle cx="463" cy="705" r="3" fill="#8fd0e8"/>
 <circle cx="528" cy="692" r="3" fill="#f07a6a"/><circle cx="528" cy="698" r="3" fill="#f07a6a"/>
 <circle cx="486" cy="682" r="1.5" fill="#f4e0a0"/><circle cx="520" cy="680" r="1.5" fill="#f4e0a0"/>
</g>
<line x1="492" y1="733" x2="492" y2="742" stroke="#5fa4e0" stroke-width="3"/>
<polygon points="486,741 492,749 498,741" fill="#5fa4e0"/>
<g fill="#bdb8a6" stroke="#a8a290" stroke-width="0.5">
 <polygon points="445,768 470,755 490,760 480,778 450,782"/>
 <polygon points="495,756 525,760 530,778 505,782"/>
 <polygon points="438,790 460,785 468,805 445,812"/>
 <polygon points="470,790 500,788 505,810 478,815"/>
 <polygon points="510,790 545,786 550,812 520,818"/>
 <polygon points="450,815 475,820 470,830 448,826"/>
 <polygon points="490,818 530,822 515,830 492,828"/>
 <polygon points="535,765 555,775 560,800 545,800"/>
</g>
<g fill="#333">
 <rect x="458" y="768" width="10" height="5" rx="2.5" transform="rotate(30 463 770)"/>
 <rect x="495" y="765" width="10" height="5" rx="2.5"/>
 <rect x="470" y="785" width="10" height="5" rx="2.5" transform="rotate(-20 475 787)"/>
 <rect x="512" y="778" width="10" height="5" rx="2.5" transform="rotate(40 517 780)"/>
 <rect x="448" y="800" width="10" height="5" rx="2.5" transform="rotate(60 453 802)"/>
 <rect x="485" y="800" width="10" height="5" rx="2.5" transform="rotate(-40 490 802)"/>
 <rect x="520" y="805" width="10" height="5" rx="2.5" transform="rotate(20 525 807)"/>
 <rect x="500" y="815" width="10" height="5" rx="2.5" transform="rotate(-60 505 817)"/>
 <rect x="465" y="815" width="10" height="5" rx="2.5" transform="rotate(10 470 817)"/>
 <rect x="535" y="790" width="10" height="5" rx="2.5" transform="rotate(70 540 792)"/>
</g>
<text x="497" y="859" font-size="18" text-anchor="middle">Destroying biofilm</text>

<!-- microbiome -->
<circle cx="712" cy="749" r="64" fill="#d6e7f5" stroke="#bcd6ec" stroke-width="3"/>
<path d="M712,685 A64,64 0 0,0 712,813 A32,32 0 0,0 712,749 A32,32 0 0,1 712,685 Z" fill="#f8fbfe" transform="rotate(35 712 749)"/>
<circle cx="730" cy="723" r="9" fill="#d6e7f5"/>
<circle cx="700" cy="778" r="9" fill="#f8fbfe"/>
<g>
 <rect x="692" y="695" width="28" height="10" rx="5" fill="#8fd0e8" stroke="#5fb0d0" stroke-width="0.6" transform="rotate(-15 706 700)"/>
 <rect x="670" y="715" width="7" height="22" rx="3.5" fill="#7ac070" transform="rotate(10 673 726)"/>
 <rect x="677" y="740" width="30" height="11" rx="5.5" fill="#8fd0e8" stroke="#5fb0d0" stroke-width="0.6" transform="rotate(-20 692 745)"/>
 <rect x="724" y="733" width="24" height="8" rx="4" fill="#d8a8d0" transform="rotate(20 736 737)"/>
 <rect x="749" y="710" width="7" height="22" rx="3.5" fill="#7ac070" transform="rotate(12 752 721)"/>
 <rect x="752" y="742" width="7" height="24" rx="3.5" fill="#8fd0e8" transform="rotate(40 755 754)"/>
 <rect x="696" y="762" width="9" height="22" rx="4.5" fill="#3a9c8c" transform="rotate(35 700 773)"/>
 <rect x="727" y="780" width="7" height="22" rx="3.5" fill="#d8a8d0" transform="rotate(20 730 791)"/>
 <circle cx="667" cy="775" r="5.5" fill="#6aa8d8"/><circle cx="676" cy="778" r="5.5" fill="#8fc0e8"/>
 <circle cx="749" cy="776" r="5" fill="#f07a6a"/><circle cx="749" cy="785" r="5" fill="#f07a6a"/>
 <circle cx="663" cy="750" r="3.5" fill="#f4b860"/><circle cx="730" cy="766" r="3.5" fill="#f4b860"/><circle cx="698" cy="724" r="2.5" fill="#f4b860"/>
 <circle cx="730" cy="708" r="4" fill="#6aa8d8"/><circle cx="733" cy="715" r="4" fill="#8fc0e8"/>
</g>
<text x="718" y="842" font-size="18" text-anchor="middle">Restoring</text>
<text x="720" y="863" font-size="18" text-anchor="middle">Microbiome homeostasis</text>

<!-- scale -->
<ellipse cx="922" cy="807" rx="66" ry="12" fill="#d9b84a"/>
<ellipse cx="922" cy="804" rx="66" ry="11" fill="#f6e28e" stroke="#d0ae44" stroke-width="1"/>
<ellipse cx="922" cy="799" rx="30" ry="6" fill="#f3d976" stroke="#d0ae44" stroke-width="0.8"/>
<ellipse cx="922" cy="794" rx="15" ry="4" fill="#f6e28e" stroke="#d0ae44" stroke-width="0.8"/>
<rect x="919" y="680" width="6" height="114" fill="#f6e28e" stroke="#c9a83c" stroke-width="0.8"/>
<ellipse cx="922" cy="676" rx="3.5" ry="6" fill="#f6e28e" stroke="#c9a83c" stroke-width="0.8"/>
<rect x="905" y="695" width="34" height="4" fill="#f6e28e" stroke="#c9a83c" stroke-width="0.8"/>
<line x1="862" y1="681" x2="972" y2="705" stroke="#6a9cc0" stroke-width="6" stroke-linecap="round"/>
<line x1="862" y1="681" x2="972" y2="705" stroke="#a8d4ea" stroke-width="3.5" stroke-linecap="round"/>
<circle cx="862" cy="684" r="3" fill="none" stroke="#c9a83c" stroke-width="1.5"/>
<circle cx="972" cy="708" r="3" fill="none" stroke="#c9a83c" stroke-width="1.5"/>
<path d="M862,687 L850,742 M862,687 L894,742 M972,711 L948,765 M972,711 L994,765" stroke="#4a6a80" stroke-width="0.8" fill="none"/>
<path d="M849,742 Q872,758 895,742 Z" fill="#6ab3cf" stroke="#4a8aa8" stroke-width="0.8"/>
<ellipse cx="872" cy="742" rx="23" ry="3.5" fill="#a8d8ea" stroke="#4a8aa8" stroke-width="0.6"/>
<path d="M947,765 Q971,781 995,765 Z" fill="#6ab3cf" stroke="#4a8aa8" stroke-width="0.8"/>
<ellipse cx="971" cy="765" rx="24" ry="3.5" fill="#a8d8ea" stroke="#4a8aa8" stroke-width="0.6"/>
<text x="875" y="721" font-size="14" text-anchor="middle">TNF-α</text>
<text x="875" y="737" font-size="14" text-anchor="middle">IL-1β</text>
<text x="937" y="740" font-size="14">IL-10 Arg1</text>
<text x="937" y="755" font-size="14">VEGF, CD31</text>
<text x="929" y="839" font-size="18" text-anchor="middle">Anti-inflammation</text>
<text x="935" y="861" font-size="18" text-anchor="middle">and tissue repair</text>

<!-- watermark -->
<text x="20" y="864" font-size="13" font-weight="bold" letter-spacing="5.5" style="font-family:'Noto Sans CJK SC','WenQuanYi Zen Hei',sans-serif" fill="#222">多邦图文化作品</text>
<text x="20" y="877" font-size="13.5" font-weight="bold" fill="#222">www.bangtuwh.com</text>
</svg>
</body></html>
